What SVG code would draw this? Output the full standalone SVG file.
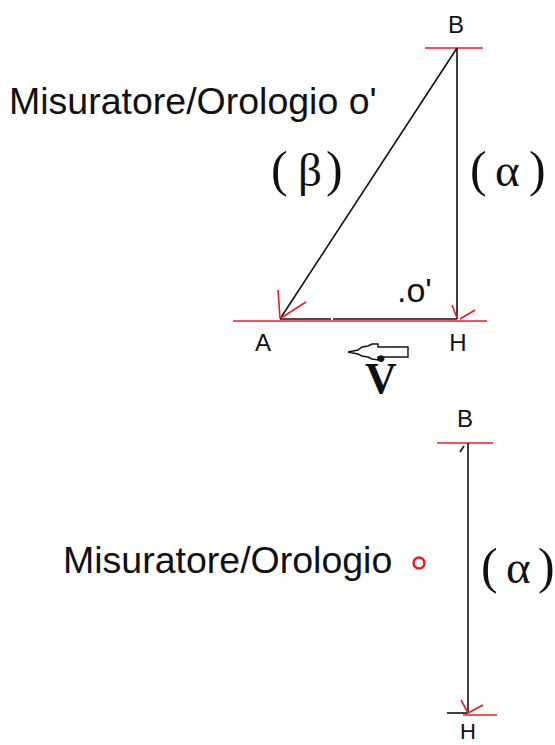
<svg xmlns="http://www.w3.org/2000/svg" width="555" height="745" viewBox="0 0 555 745">
<style>
.lbl{font-family:"Liberation Sans",Arial,sans-serif;fill:#111}
.big{font-size:37.5px}
.pt{font-size:24px;text-anchor:middle}
.gr{font-family:"Liberation Serif","DejaVu Serif",serif;font-size:50px;fill:#111}
.sym{font-size:47px}
.blk{stroke:#111;stroke-width:1.6;fill:none}
.red{stroke:#ee1c24;stroke-width:1.6;fill:none}
</style>
<rect width="555" height="745" fill="#fff"/>
<g id="top-observer"><text class="lbl big" x="9" y="114">Misuratore/Orologio o'</text></g>
<g id="B1"><text class="lbl pt" x="456" y="33">B</text><line class="red" x1="425" y1="48" x2="483" y2="48"/></g>
<g id="A1"><text class="lbl pt" x="263" y="351">A</text></g>
<g id="H1"><text class="lbl pt" x="458" y="351">H</text></g>
<g id="red-base"><line class="red" x1="233" y1="321" x2="487" y2="321"/></g>
<g id="oprime"><text class="lbl big" x="397" y="302" style="font-size:34px">.o'</text></g>
<g id="beta"><text class="gr" y="186"><tspan x="271">(</tspan><tspan class="sym" x="298">β</tspan><tspan x="326">)</tspan></text></g>
<g id="alpha1"><text class="gr" y="186"><tspan x="470">(</tspan><tspan class="sym" x="495">α</tspan><tspan x="529">)</tspan></text></g>
<g id="velocity">
<polygon points="348,352 358,350 362,347 368,346 372,344 378,344 378,347 408,347 408,357 378,357 378,360 372,359 368,357 362,356 358,354" fill="#fff" stroke="#111" stroke-width="1.4"/>
<text x="365" y="393" style="font-family:'Liberation Serif',serif;font-weight:bold;font-size:44px;fill:#111">V̇</text>
</g>
<g id="B2"><text class="lbl pt" x="465" y="427">B</text><line class="red" x1="437" y1="443" x2="493" y2="443"/></g>
<g id="H2"><text class="lbl pt" x="468" y="739" style="font-size:22px">H</text><line class="blk" x1="447" y1="713" x2="468" y2="713"/><line class="red" x1="463" y1="715" x2="497" y2="715"/></g>
<g id="bottom-observer"><text class="lbl big" x="63" y="573">Misuratore/Orologio</text><circle cx="419" cy="563" r="5.5" fill="none" stroke="#ee1c24" stroke-width="2.5"/></g>
<g id="alpha2"><text class="gr" y="583"><tspan x="481">(</tspan><tspan class="sym" x="506">α</tspan><tspan x="538">)</tspan></text></g>
<g id="connectors">
<line class="blk" x1="457" y1="48" x2="457" y2="319"/>
<line class="blk" x1="457" y1="48" x2="280" y2="319" stroke-width="1.2"/>
<line class="blk" x1="280" y1="319" x2="331" y2="319"/>
<line class="blk" x1="333" y1="319" x2="457" y2="319"/>
<path class="red" d="M278,290 L280,318 M306,302 L281,318"/>
<path class="red" d="M452,305 L457,318 M475,310 L460,319"/>
<line class="blk" x1="468" y1="443" x2="468" y2="713"/>
<path class="blk" d="M460,452 L464,446"/>
<path class="red" d="M461,700 L468,713 M483,705 L468,713"/>
</g>
</svg>
